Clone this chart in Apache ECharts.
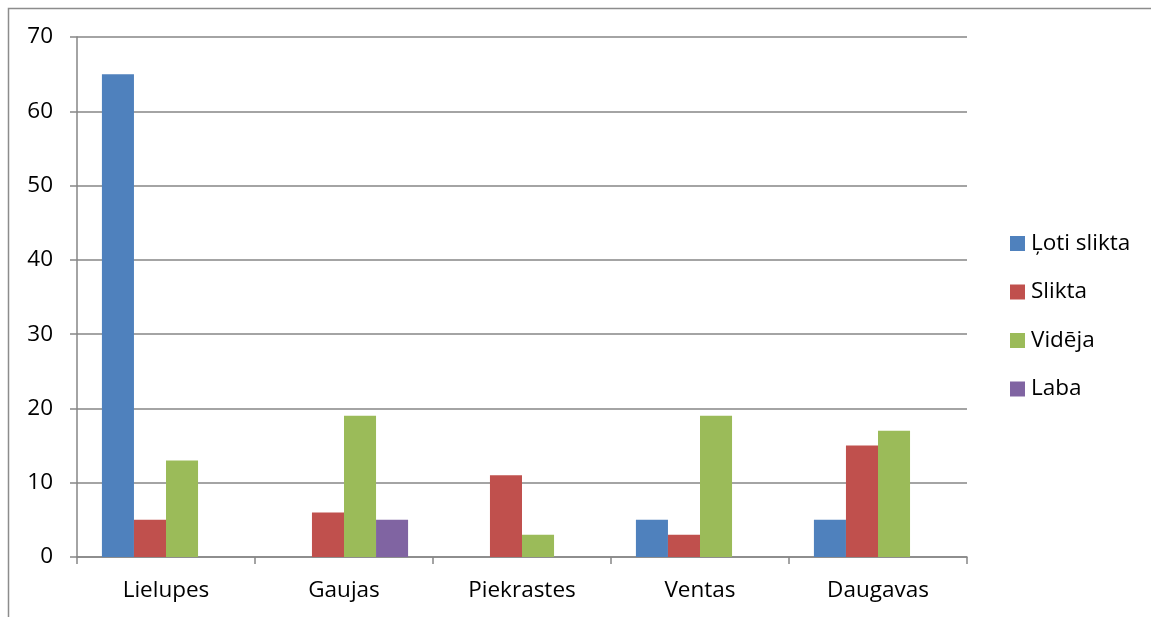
<!DOCTYPE html>
<html>
<head>
<meta charset="utf-8">
<script src="https://cdn.jsdelivr.net/npm/echarts@6/dist/echarts.min.js"></script>
<style>
  html, body { margin: 0; padding: 0; background: #fff; }
  #chart { width: 1151px; height: 617px; }
</style>
</head>
<body>
<div id="chart"></div>
<script>
// River basins and water quality classes
const categories = ['Lielupes', 'Gaujas', 'Piekrastes', 'Ventas', 'Daugavas'];
const seriesNames = ['Ļoti slikta', 'Slikta', 'Vidēja', 'Laba'];
const lotiSlikta = [65, 0, 0, 5, 5];
const slikta = [5, 6, 11, 3, 15];
const videja = [13, 19, 3, 19, 17];
const laba = [0, 5, 0, 0, 0];
const yTicks = [0, 10, 20, 30, 40, 50, 60, 70];

const colors = ['#4F81BD', '#C0504D', '#9BBB59', '#8064A2'];
const values = [lotiSlikta, slikta, videja, laba];
const font = '"Open Sans", "Noto Sans", sans-serif';
const axisGray = '#868686';
const fontSize = 22.5;

const chart = echarts.init(document.getElementById('chart'), null, { renderer: 'canvas' });
chart.setOption({
  animation: false,
  backgroundColor: '#fff',
  textStyle: { fontFamily: font },
  graphic: [{
    type: 'rect',
    shape: { x: 8.5, y: 8.5, width: 1300, height: 800 },
    style: { fill: 'none', stroke: '#8c8c8c', lineWidth: 1.5 },
    silent: true, z: -1
  }],
  grid: { left: 77, right: 184, top: 37, bottom: 60, containLabel: false },
  legend: {
    orient: 'vertical',
    left: 1005,
    top: 227,
    itemWidth: 15,
    itemHeight: 15,
    itemGap: 25.5,
    icon: 'rect',
    textStyle: { fontFamily: font, fontSize: fontSize, lineHeight: 23, color: '#000', padding: [0, 0, 0, 1] },
    data: seriesNames
  },
  xAxis: {
    type: 'category',
    data: categories,
    axisLine: { lineStyle: { color: axisGray, width: 1.5 } },
    axisTick: { show: true, alignWithLabel: false, length: 7, lineStyle: { color: axisGray, width: 1.5 } },
    axisLabel: { fontFamily: font, fontSize: fontSize, color: '#000', margin: 22 },
    splitLine: { show: false }
  },
  yAxis: {
    type: 'value',
    min: yTicks[0],
    max: yTicks[yTicks.length - 1],
    interval: 10,
    axisLine: { show: true, lineStyle: { color: axisGray, width: 1.5 } },
    axisTick: { show: true, length: 7, lineStyle: { color: axisGray, width: 1.5 } },
    axisLabel: { fontFamily: font, fontSize: fontSize, color: '#000', margin: 24 },
    splitLine: { show: true, lineStyle: { color: axisGray, width: 1.5 } }
  },
  series: seriesNames.map((name, i) => ({
    name,
    type: 'bar',
    data: values[i],
    barGap: '0%',
    barCategoryGap: '28%',
    itemStyle: { color: colors[i] }
  }))
});
</script>
</body>
</html>
